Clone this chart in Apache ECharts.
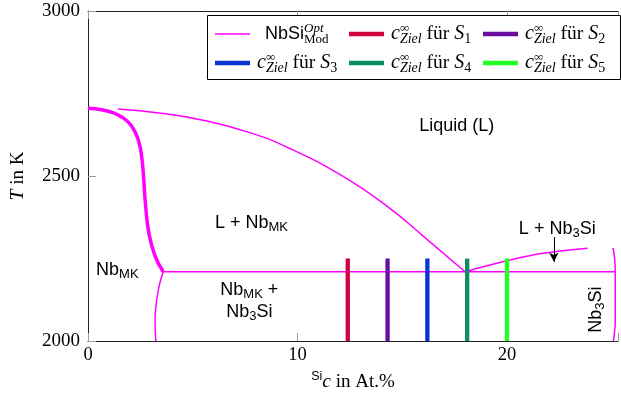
<!DOCTYPE html>
<html><head><meta charset="utf-8">
<script src="https://cdn.jsdelivr.net/npm/echarts@6/dist/echarts.min.js"></script>
<style>html,body{margin:0;padding:0;background:#fff}#c{width:621px;height:400px}</style>
</head><body><div id="c"></div>
<script>
// ---- data ----
const xTicks = [0, 10, 20];
const yTicks = [2000, 2500, 3000];
// liquidus of Nb_MK (thin)
const liquidusNb = [[1.42,2703],[3.5,2690],[5.43,2670],[7.79,2630],[9.68,2582],[12.2,2498],[14.41,2402],[16.0,2318],[18.0,2210]];
// thick curve (solidus of Nb_MK)
const solidusNb = [[0,2705],[0.71,2700],[1.18,2692],[1.65,2677],[1.97,2660],[2.25,2633],[2.44,2600],[2.56,2560],[2.64,2508],[2.75,2410],[2.91,2326],[3.2,2258],[3.59,2210]];
// solvus of Nb_MK
const solvusNb = [[3.59,2210],[3.39,2165],[3.26,2114],[3.20,2064],[3.22,2020],[3.24,2000]];
// eutectic horizontal
const eutectic = [[3.59,2210],[25.15,2210]];
// liquidus of Nb3Si
const liquidusNb3Si = [[18.0,2210],[20.0,2243],[21.65,2265],[23.85,2281]];
// Nb3Si phase line
const phaseNb3Si = [[25.06,2282],[25.14,2250],[25.17,2210],[25.17,2060],[25.12,2020],[25.08,2000]];
// target concentrations c_Ziel for S1..S5
const targetNames = ['S1','S2','S3','S4','S5'];
const targetConc = [12.4, 14.3, 16.2, 18.1, 20.0];
const targetTop = [2250, 2250, 2250, 2250, 2250];
const targetColors = ['#d1003f','#6b0d9e','#0a33d2','#0b8f63','#22ff22'];
// arrow annotation
const arrowFrom = [22.24, 2315];
const arrowTo = [22.24, 2240];

const MAG = '#ff00ff';
const SERIF = 'Liberation Serif';
const SANS = 'Liberation Sans';

const chart = echarts.init(document.getElementById('c'), null, {renderer:'canvas'});

const lineBase = {type:'line', showSymbol:false, symbol:'none', silent:true, animation:false, z:3};
const series = [
  Object.assign({}, lineBase, {name:'NbSi', data:liquidusNb, smooth:0.5, lineStyle:{color:MAG, width:1.5}, itemStyle:{color:MAG},
    markLine:{silent:true, symbol:['none','arrow'], symbolSize:[7,9], label:{show:false}, lineStyle:{color:'#000', width:1, type:'solid'},
      data:[[{coord:arrowFrom},{coord:arrowTo}]], animation:false}}),
  Object.assign({}, lineBase, {name:'NbSi', data:solidusNb, smooth:0.5, lineStyle:{color:MAG, width:3.5}, itemStyle:{color:MAG}}),
  Object.assign({}, lineBase, {name:'NbSi', data:solvusNb, smooth:0.5, lineStyle:{color:MAG, width:1.5}, itemStyle:{color:MAG}}),
  Object.assign({}, lineBase, {name:'NbSi', data:eutectic, lineStyle:{color:MAG, width:1.5}, itemStyle:{color:MAG}}),
  Object.assign({}, lineBase, {name:'NbSi', data:liquidusNb3Si, smooth:0.4, lineStyle:{color:MAG, width:1.5}, itemStyle:{color:MAG}}),
  Object.assign({}, lineBase, {name:'NbSi', data:phaseNb3Si, smooth:0.5, lineStyle:{color:MAG, width:1.5}, itemStyle:{color:MAG}})
];
targetNames.forEach((n,i)=>{
  series.push(Object.assign({}, lineBase, {name:n, z:4, data:[[targetConc[i],2000],[targetConc[i],targetTop[i]]],
    lineStyle:{color:targetColors[i], width:4.3, cap:'butt'}, itemStyle:{color:targetColors[i]}}));
});

const richLegend = {
  pad: {width:10},
  pad2: {width:2},
  n: {fontFamily:SANS, fontSize:18, lineHeight:24, color:'#000'},
  opt: {fontFamily:SERIF, fontStyle:'italic', fontSize:13, lineHeight:8, verticalAlign:'top', width:0, color:'#000'},
  mod: {fontFamily:SERIF, fontSize:13, lineHeight:10, verticalAlign:'bottom', color:'#000'},
  c: {fontFamily:SERIF, fontStyle:'italic', fontSize:20, lineHeight:24, color:'#000'},
  inf: {fontFamily:SERIF, fontSize:13, lineHeight:13, verticalAlign:'top', width:0, color:'#000'},
  ziel: {fontFamily:SERIF, fontStyle:'italic', fontSize:14, lineHeight:8, verticalAlign:'bottom', color:'#000'},
  t: {fontFamily:SERIF, fontSize:19.5, lineHeight:24, color:'#000'},
  s: {fontFamily:SERIF, fontStyle:'italic', fontSize:20, lineHeight:24, color:'#000'},
  ss: {fontFamily:SERIF, fontSize:14, lineHeight:12, verticalAlign:'bottom', color:'#000'}
};
function legendFmt(name){
  if (name === 'NbSi') return '{pad|}{n|NbSi}{opt|Opt}{mod|Mod}';
  return '{pad2|}{c|c}{inf|∞}{ziel|Ziel}{t| für }{s|S}{ss|' + name.slice(1) + '}';
}
const legendPos = [
  ['NbSi', 215, 22, 1.5],
  ['S1', 349, 22, 4.3],
  ['S2', 483, 22, 4.3],
  ['S3', 215, 51, 4.3],
  ['S4', 349, 51, 4.3],
  ['S5', 483, 51, 4.3]
];
const legends = legendPos.map(p=>({
  data:[p[0]], left:p[1], top:p[2], padding:0, itemWidth:35, itemHeight:p[3], icon:'rect',
  formatter:legendFmt, textStyle:{rich:richLegend, color:'#000'}, selectedMode:false, z:6
}));

const axisLineStyle = {color:'#222', width:1};
const tickStyle = {color:'#9a9a9a', width:1};
const option = {
  animation:false,
  backgroundColor:'#fff',
  grid:{left:85, right:0, top:11, bottom:59, containLabel:false},
  legend: legends,
  xAxis:[
    {type:'value', min:0, max:25.3, interval:10, position:'bottom',
     axisLine:{show:true, onZero:false, lineStyle:axisLineStyle},
     axisTick:{show:true, inside:true, length:8, lineStyle:tickStyle},
     splitLine:{show:false},
     axisLabel:{show:true, margin:5, color:'#000', fontFamily:SERIF, fontSize:18.5,
       formatter:v=> xTicks.indexOf(v) >= 0 ? String(v) : ''},
     name:'{sup|Si}{i|c}{r| in At.%}', nameLocation:'middle', nameGap:29,
     nameTextStyle:{rich:{
       sup:{fontFamily:SANS, fontSize:12.5, lineHeight:14, verticalAlign:'top', color:'#000'},
       i:{fontFamily:SERIF, fontStyle:'italic', fontSize:19.5, lineHeight:24, color:'#000'},
       r:{fontFamily:SERIF, fontSize:19, lineHeight:24, color:'#000'}}}},
    {type:'value', min:0, max:25.3, interval:10, position:'top',
     axisLine:{show:true, onZero:false, lineStyle:axisLineStyle},
     axisTick:{show:true, inside:true, length:8, lineStyle:tickStyle},
     splitLine:{show:false}, axisLabel:{show:false}}
  ],
  yAxis:[
    {type:'value', min:2000, max:3000, interval:500, position:'left',
     axisLine:{show:true, onZero:false, lineStyle:axisLineStyle},
     axisTick:{show:true, inside:true, length:8, lineStyle:tickStyle},
     splitLine:{show:false},
     axisLabel:{show:true, margin:8, color:'#000', fontFamily:SERIF, fontSize:19,
       formatter:v=> yTicks.indexOf(v) >= 0 ? String(v) : ''},
     name:'{i|T}{r| in K}', nameLocation:'middle', nameGap:60, nameRotate:90,
     nameTextStyle:{rich:{
       i:{fontFamily:SERIF, fontStyle:'italic', fontSize:19.5, lineHeight:20, color:'#000'},
       r:{fontFamily:SERIF, fontSize:19, lineHeight:20, color:'#000'}}}},
    {type:'value', min:2000, max:3000, interval:500, position:'right',
     axisLine:{show:false}, axisTick:{show:false},
     splitLine:{show:false}, axisLabel:{show:false}}
  ],
  series: series
};
chart.setOption(option);

// region annotations, placed at data coordinates
const richLbl = {
  a:{fontFamily:SANS, fontSize:18, lineHeight:22, color:'#000'},
  b:{fontFamily:SANS, fontSize:13, lineHeight:10, verticalAlign:'bottom', color:'#000'}
};
const labels = [
  ['{a|Liquid (L)}', [17.6, 2650], 0],
  ['{a|L + Nb}{b|MK}', [7.8, 2357], 0],
  ['{a|Nb}{b|MK}', [1.4, 2215], 0],
  ['{a|Nb}{b|MK}{a| +}\n{a|Nb}{b|3}{a|Si}', [7.7, 2120], 0],
  ['{a|L + Nb}{b|3}{a|Si}', [22.4, 2340], 0],
  ['{a|Nb}{b|3}{a|Si}', [24.25, 2095], Math.PI/2]
];
const graphics = labels.map(l=>{
  const p = chart.convertToPixel({xAxisIndex:0, yAxisIndex:0}, l[1]);
  return {type:'text', x:p[0], y:p[1], rotation:l[2], z:5, silent:true,
    style:{text:l[0], rich:richLbl, align:'center', verticalAlign:'middle', fill:'#000'}};
});
graphics.push({type:'rect', shape:{x:207.5, y:15.5, width:413, height:64}, style:{fill:'#fff', stroke:'#000', lineWidth:1}, z:5, silent:true});
chart.setOption({graphic:graphics});
</script>
</body></html>
